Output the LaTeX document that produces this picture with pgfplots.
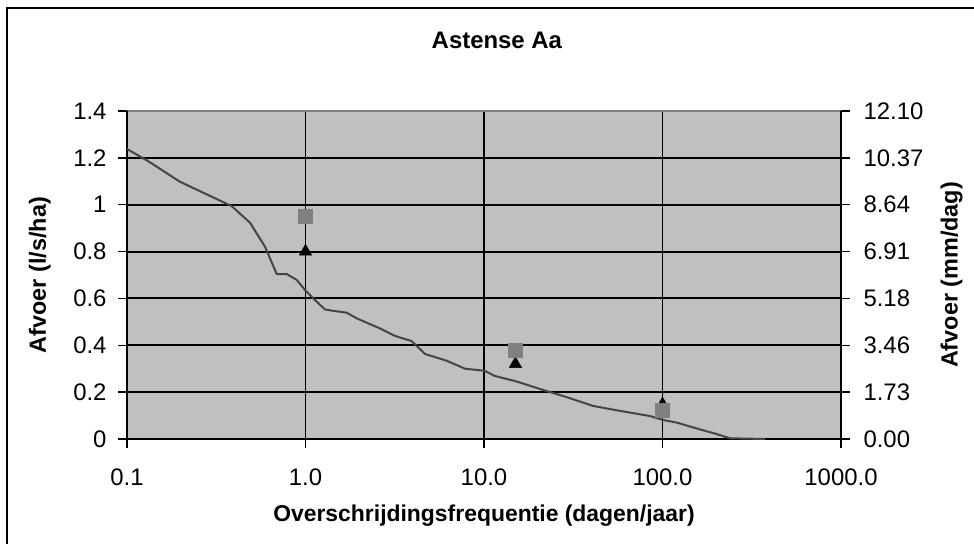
\documentclass[border=0pt]{standalone}
\usepackage{pgfplots}
\pgfplotsset{compat=1.18}
\usepackage{fontspec}
\setmainfont{Liberation Sans}

\definecolor{plotbg}{HTML}{C0C0C0}
\definecolor{curve}{HTML}{454545}
\definecolor{sqgray}{HTML}{808080}

\pgfplotsset{
  common/.style={
    scale only axis,
    width=714bp, height=328bp,
    at={(127bp,105bp)}, anchor=south west,
    xmin=0.1, xmax=1000,
    xminorticks=false,
    tick align=outside,
    major tick length=9bp,
    every tick/.style={black, line width=1.4bp},
    tick label style={font=\fontsize{24}{28}\selectfont},
    /pgf/number format/assume math mode=true,
    label style={font=\bfseries\fontsize{23.5}{28}\selectfont},
  },
}

\begin{document}
\begin{tikzpicture}[x=1bp,y=1bp]
\useasboundingbox (0,0) rectangle (974,544);
% chart frame (only left and top edges visible in the reference)
\draw[line width=2bp] (6.7,0) -- (6.7,535.7) -- (974,535.7);

\begin{axis}[
  xmode=log, log basis x=10,
  common,
  axis background/.style={fill=plotbg},
  axis line style={draw=none},
  ymin=0, ymax=1.4,
  ytick={0,0.2,0.4,0.6,0.8,1,1.2,1.4},
  yticklabels={0,0.2,0.4,0.6,0.8,1,1.2,1.4},
  xtick={0.1,1,10,100,1000},
  xticklabels={0.1,1.0,10.0,100.0,1000.0},
  xtick pos=bottom, ytick pos=left,
  xticklabel style={yshift=-17bp},
  yticklabel style={xshift=-8bp},
  grid=major,
  major grid style={black, line width=1.9bp},
  title={Astense Aa},
  title style={font=\bfseries\fontsize{24}{28}\selectfont,
    at={(axis description cs:0.518,1.198)}, anchor=center},
  xlabel={Overschrijdingsfrequentie (dagen/jaar)},
  xlabel style={font=\bfseries\fontsize{23}{28}\selectfont,
    at={(axis description cs:0.5,-0.235)}, anchor=center},
  ylabel={Afvoer (l/s/ha)},
  ylabel style={at={(axis description cs:-0.122,0.5)}, anchor=center},
  clip=false,
]
% plot area borders
\draw[sqgray, line width=1.5bp] (rel axis cs:0,1) -- (rel axis cs:1,1);
\draw[black, line width=1.8bp] (rel axis cs:0,1) -- (rel axis cs:0,0) -- (rel axis cs:1,0);

\addplot[curve, line width=2bp, mark=none] coordinates {
(0.1,1.238) (0.1345,1.181) (0.198,1.098) (0.386,0.994) (0.489,0.923)
(0.593,0.821) (0.690,0.704) (0.785,0.704) (0.893,0.679) (0.994,0.636)
(1.106,0.600) (1.286,0.553) (1.403,0.548) (1.702,0.539) (1.936,0.515)
(2.61,0.472) (3.17,0.44) (3.93,0.418) (4.67,0.363) (6.18,0.334)
(7.83,0.30) (10.1,0.291) (11.5,0.269) (15.3,0.245) (21.5,0.209)
(28.4,0.181) (40.9,0.141) (57.8,0.12) (85.1,0.098) (101,0.081)
(120,0.07) (162,0.041) (201,0.021) (239,0.003) (375,0.0)
};

\addplot[only marks, mark=triangle*, mark size=7.3bp, black] coordinates {
(1,0.80) (15,0.32) (100,0.148)
};

\addplot[only marks, mark=square*, mark size=7bp, sqgray] coordinates {
(1,0.953) (15,0.381) (100,0.124)
};
\end{axis}

\begin{axis}[
  xmode=log, log basis x=10,
  common,
  axis x line=none,
  axis y line*=right,
  axis line style={black, line width=1.8bp},
  ymin=0, ymax=12.096,
  ytick={0,1.728,3.456,5.184,6.912,8.64,10.368,12.096},
  yticklabels={0.00,1.73,3.46,5.18,6.91,8.64,10.37,12.10},
  yticklabel style={xshift=10bp},
  ylabel={Afvoer (mm/dag)},
  ylabel style={at={(axis description cs:1.155,0.5)}, anchor=center},
]
\end{axis}
\end{tikzpicture}
\end{document}
